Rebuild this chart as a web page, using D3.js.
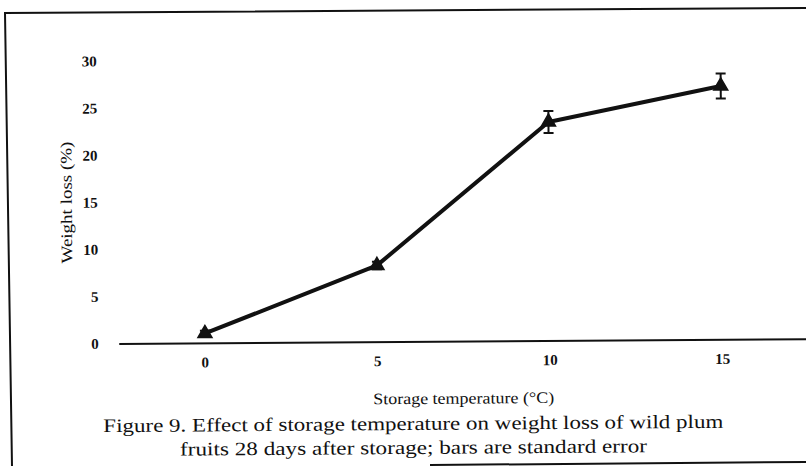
<!DOCTYPE html>
<html>
<head>
    <title>Figure 9 - weight loss</title>
    <meta charset="utf-8">
    <style type="text/css">
        body { margin: 0; background: #fff; }
        .axis text {
            font-family: "Liberation Serif", serif;
            font-size: 15px;
            font-weight: bold;
            fill: #111;
        }
        .title, .caption {
            font-family: "Liberation Serif", serif;
            fill: #111;
        }
    </style>
</head>
<body>
<svg width="806" height="470"></svg>

<script src="https://cdnjs.cloudflare.com/ajax/libs/d3/7.8.5/d3.min.js"></script>
<script type="text/javascript">
    /*=========DATA=========*/
    var temps = ['0', '5', '10', '15'];
    var weightLoss = [1.0, 8.1, 23.2, 26.9];
    var stdErr = [0.3, 0.4, 1.17, 1.33];
    var yTicks = [0, 5, 10, 15, 20, 25, 30];
    var xTitle = 'Storage temperature (°C)';
    var yTitle = 'Weight loss (%)';
    var caption = [
        'Figure 9.  Effect of storage temperature on weight loss of wild plum',
        'fruits 28 days after storage; bars are standard error'
    ];

    /*=========SIZE=========*/
    var svg = d3.select('svg');
    var plot = { left: 118, right: 808, zero: 341.5, top: 59 };

    // the scanned page is a little rotated
    var page = svg.append('g').attr('transform', 'rotate(-0.4, 403, 235)');

    var xScale = d3.scaleBand().domain(temps).range([plot.left, plot.right]);
    var yScale = d3.scaleLinear().domain([0, 30]).range([plot.zero, plot.top]);
    var cx = function (i) { return xScale(temps[i]) + xScale.bandwidth() / 2; };

    // 坐标轴
    var xAxis = d3.axisBottom(xScale).tickSize(0).tickSizeOuter(0).tickPadding(14);
    var gx = page.append('g').attr('class', 'x axis')
        .attr('transform', 'translate(0,' + plot.zero + ')')
        .call(xAxis);
    gx.select('.domain').attr('stroke', '#111').attr('stroke-width', 2);

    var yAxis = d3.axisLeft(yScale).tickValues(yTicks).tickSize(0).tickPadding(20);
    var gy = page.append('g').attr('class', 'y axis')
        .attr('transform', 'translate(' + plot.left + ',0)')
        .call(yAxis);
    gy.select('.domain').remove();

    // 折线
    var line = d3.line()
        .x(function (d, i) { return cx(i); })
        .y(function (d) { return yScale(d); });
    page.append('path')
        .attr('d', line(weightLoss))
        .attr('fill', 'none')
        .attr('stroke', '#111')
        .attr('stroke-width', 4)
        .attr('stroke-linejoin', 'round');

    // error bars
    var eb = page.append('g').attr('stroke', '#111').attr('stroke-width', 2);
    weightLoss.forEach(function (v, i) {
        var x = cx(i), y1 = yScale(v + stdErr[i]), y2 = yScale(v - stdErr[i]);
        eb.append('line').attr('x1', x).attr('x2', x).attr('y1', y1).attr('y2', y2);
        eb.append('line').attr('x1', x - 5).attr('x2', x + 5).attr('y1', y1).attr('y2', y1);
        eb.append('line').attr('x1', x - 5).attr('x2', x + 5).attr('y1', y2).attr('y2', y2);
    });

    // markers
    var tri = d3.symbol().type(d3.symbolTriangle).size(85);
    page.append('g').selectAll('path')
        .data(weightLoss)
        .join('path')
        .attr('d', tri)
        .attr('transform', function (d, i) { return 'translate(' + cx(i) + ',' + yScale(d) + ')'; })
        .attr('fill', '#111')
        .attr('stroke', '#111')
        .attr('stroke-width', 1.5);

    // titles
    page.append('text').attr('class', 'title')
        .attr('x', (plot.left + plot.right) / 2 - 0.5)
        .attr('y', 404)
        .attr('text-anchor', 'middle')
        .attr('font-size', 16)
        .attr('lengthAdjust', 'spacingAndGlyphs')
        .attr('textLength', 181)
        .text(xTitle);

    page.append('text').attr('class', 'title')
        .attr('transform', 'translate(72,' + ((plot.top + plot.zero) / 2) + ') rotate(-90)')
        .attr('text-anchor', 'middle')
        .attr('font-size', 16)
        .attr('lengthAdjust', 'spacingAndGlyphs')
        .attr('textLength', 122)
        .text(yTitle);

    page.selectAll('.caption')
        .data(caption)
        .join('text')
        .attr('class', 'caption')
        .attr('x', 412)
        .attr('y', function (d, i) { return 430 + i * 24; })
        .attr('text-anchor', 'middle')
        .attr('font-size', 19)
        .attr('lengthAdjust', 'spacingAndGlyphs')
        .attr('textLength', function (d, i) { return i ? 467 : 620; })
        .text(function (d) { return d; });

    // frame (scan border)
    svg.append('path')
        .attr('d', 'M12,466L5,13L806,8')
        .attr('fill', 'none')
        .attr('stroke', '#111')
        .attr('stroke-width', 2);
    svg.append('path')
        .attr('d', 'M430,465L806,462')
        .attr('fill', 'none')
        .attr('stroke', '#111')
        .attr('stroke-width', 2);
</script>
</body>
</html>
